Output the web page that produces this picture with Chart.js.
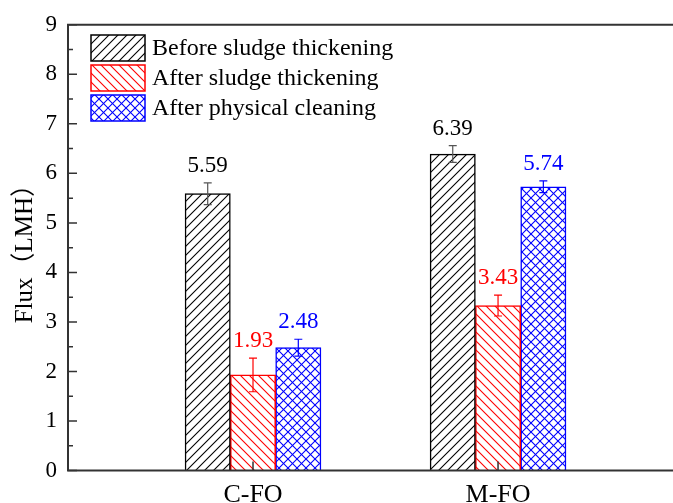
<!DOCTYPE html>
<html>
<head>
<meta charset="utf-8">
<script src="https://cdn.jsdelivr.net/npm/chart.js@4.4.1/dist/chart.umd.min.js"></script>
<style>
  html, body { margin: 0; padding: 0; background: #fff; overflow: hidden; }
  #wrap { width: 673px; height: 503px; }
</style>
</head>
<body>
<div id="wrap"><canvas id="flux"></canvas></div>
<script>
const categories = ['C-FO', 'M-FO'];
const seriesNames = ['Before sludge thickening', 'After sludge thickening', 'After physical cleaning'];

const beforeValues = [5.59, 6.39];
const beforeErr = [0.22, 0.17];
const beforeText = ['5.59', '6.39'];

const afterValues = [1.93, 3.33];
const afterErr = [0.34, 0.21];
const afterText = ['1.93', '3.43'];

const cleanValues = [2.48, 5.73];
const cleanErr = [0.17, 0.12];
const cleanText = ['2.48', '5.74'];

const yTicks = [0, 1, 2, 3, 4, 5, 6, 7, 8, 9];

const FONT = "'Liberation Serif', 'Times New Roman', 'Noto Sans CJK SC', serif";

function hatch(color, kind) {
  const s = 9;
  const c = document.createElement('canvas');
  c.width = s; c.height = s;
  const g = c.getContext('2d');
  g.fillStyle = '#fff';
  g.fillRect(0, 0, s, s);
  g.strokeStyle = color;
  g.lineWidth = 1.1;
  const fwd = () => {
    g.beginPath();
    g.moveTo(-1, s + 1); g.lineTo(s + 1, -1);
    g.moveTo(-1, 1); g.lineTo(1, -1);
    g.moveTo(s - 1, s + 1); g.lineTo(s + 1, s - 1);
    g.stroke();
  };
  const back = () => {
    g.beginPath();
    g.moveTo(-1, -1); g.lineTo(s + 1, s + 1);
    g.moveTo(s - 1, -1); g.lineTo(s + 1, 1);
    g.moveTo(-1, s - 1); g.lineTo(1, s + 1);
    g.stroke();
  };
  if (kind === 'fwd') fwd();
  if (kind === 'back') back();
  if (kind === 'cross') { fwd(); back(); }
  return g.createPattern(c, 'repeat');
}

const colors = ['#000000', '#ff0000', '#0000ff'];
const errColors = ['#555555', '#ff0000', '#0000ff'];
const patterns = [hatch('#000', 'fwd'), hatch('#ff0000', 'back'), hatch('#0000ff', 'cross')];

const allValues = [beforeValues, afterValues, cleanValues];
const allErr = [beforeErr, afterErr, cleanErr];
const allText = [beforeText, afterText, cleanText];

const datasets = allValues.map((vals, k) => ({
  label: seriesNames[k],
  data: vals.map((v, i) => ({ x: i + 1, y: v })),
  backgroundColor: patterns[k],
  borderColor: colors[k],
  borderWidth: 1.5,
  barThickness: 45.3
}));

// error bars, value labels, frame, inner ticks, legend
const decor = {
  id: 'decor',
  afterDatasetsDraw(chart) {
    const ctx = chart.ctx;
    const y = chart.scales.y, x = chart.scales.x;
    const area = chart.chartArea;
    ctx.save();
    chart.data.datasets.forEach((ds, k) => {
      const meta = chart.getDatasetMeta(k);
      meta.data.forEach((bar, i) => {
        const v = allValues[k][i], e = allErr[k][i];
        const top = y.getPixelForValue(v + e), bot = y.getPixelForValue(v - e);
        ctx.strokeStyle = errColors[k];
        ctx.lineWidth = 1.2;
        ctx.beginPath();
        ctx.moveTo(bar.x, top); ctx.lineTo(bar.x, bot);
        ctx.moveTo(bar.x - 4, top); ctx.lineTo(bar.x + 4, top);
        ctx.moveTo(bar.x - 4, bot); ctx.lineTo(bar.x + 4, bot);
        ctx.stroke();
        ctx.fillStyle = colors[k];
        ctx.font = '23px ' + FONT;
        ctx.textAlign = 'center';
        ctx.textBaseline = 'alphabetic';
        ctx.fillText(allText[k][i], bar.x, top - 11);
      });
    });

    // frame
    ctx.strokeStyle = '#333';
    ctx.lineWidth = 2;
    ctx.beginPath();
    ctx.moveTo(area.right + 2, area.top);
    ctx.lineTo(area.left, area.top);
    ctx.lineTo(area.left, area.bottom);
    ctx.lineTo(area.right + 2, area.bottom);
    ctx.stroke();

    // inner ticks
    ctx.lineWidth = 1.5;
    ctx.beginPath();
    yTicks.forEach(t => {
      const py = y.getPixelForValue(t);
      ctx.moveTo(area.left, py); ctx.lineTo(area.left + 9, py);
      if (t < 9) {
        const pm = y.getPixelForValue(t + 0.5);
        ctx.moveTo(area.left, pm); ctx.lineTo(area.left + 5, pm);
      }
    });
    categories.forEach((c, i) => {
      const px = x.getPixelForValue(i + 1);
      ctx.moveTo(px, area.bottom); ctx.lineTo(px, area.bottom - 9);
    });
    ctx.stroke();

    // legend
    chart.data.datasets.forEach((ds, k) => {
      const bx = 91, by = 35 + k * 30, bw = 54, bh = 26;
      ctx.fillStyle = ds.backgroundColor;
      ctx.fillRect(bx, by, bw, bh);
      ctx.strokeStyle = ds.borderColor;
      ctx.lineWidth = 1.5;
      ctx.strokeRect(bx, by, bw, bh);
      ctx.fillStyle = '#000';
      ctx.font = '24px ' + FONT;
      ctx.textAlign = 'left';
      ctx.textBaseline = 'middle';
      ctx.fillText(ds.label, bx + 61, by + bh / 2 + 1);
    });
    ctx.restore();
  }
};

new Chart(document.getElementById('flux'), {
  type: 'bar',
  data: { datasets: datasets },
  options: {
    responsive: true,
    maintainAspectRatio: false,
    animation: false,
    layout: { padding: { top: 20, right: 0, left: 0, bottom: 0 } },
    plugins: {
      legend: { display: false },
      tooltip: { enabled: false }
    },
    scales: {
      x: {
        type: 'linear',
        offset: false,
        bounds: 'data',
        min: 0.245,
        max: 2.714,
        grid: { display: false, drawTicks: false, tickLength: 0, offset: false },
        border: { display: false },
        afterBuildTicks: (scale) => {
          scale.ticks = categories.map((c, i) => ({ value: i + 1 }));
        },
        afterFit: (scale) => { scale.height = 32.5; },
        ticks: {
          autoSkip: false,
          maxRotation: 0,
          padding: 12,
          color: '#000',
          font: { family: FONT, size: 26, lineHeight: 1 },
          callback: (v) => categories[v - 1]
        }
      },
      y: {
        min: 0,
        max: 9,
        afterBuildTicks: (scale) => {
          scale.ticks = yTicks.map(t => ({ value: t }));
        },
        afterFit: (scale) => { scale.width = 68; },
        grid: { display: false, drawTicks: false },
        border: { display: false },
        ticks: {
          padding: 11,
          color: '#000',
          font: { family: FONT, size: 23 }
        },
        title: {
          display: true,
          text: 'Flux（LMH）',
          color: '#000',
          font: { family: FONT, size: 25 },
          padding: { top: 10, bottom: 0 }
        }
      }
    }
  },
  plugins: [decor]
});
</script>
</body>
</html>
